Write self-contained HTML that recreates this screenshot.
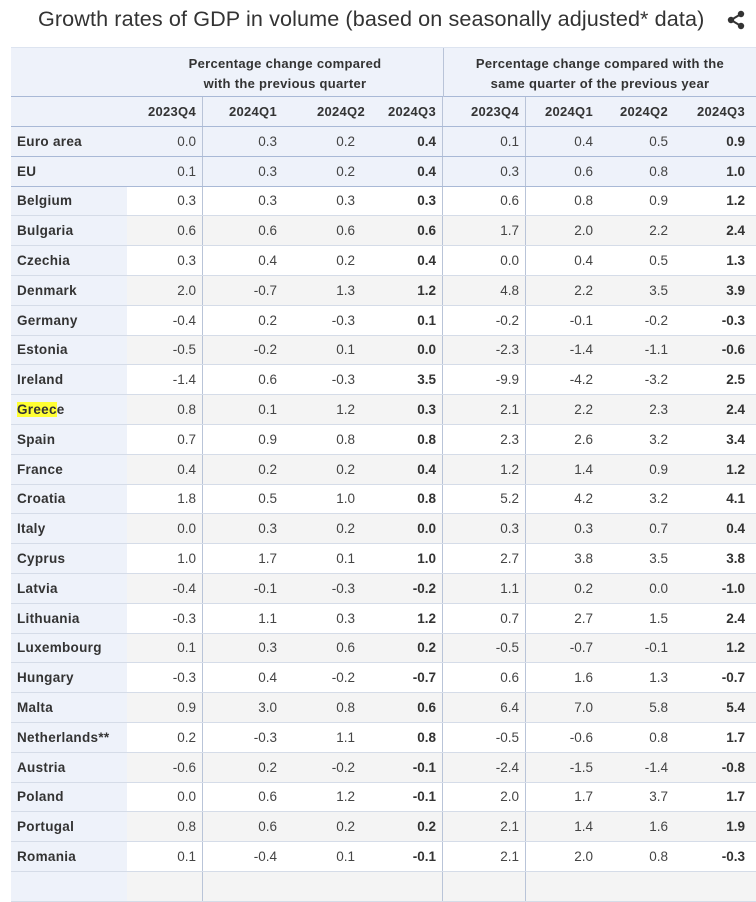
<!DOCTYPE html>
<html><head><meta charset="utf-8"><style>
body{margin:0;width:756px;height:876px;overflow:hidden;background:#fff;font-family:"Liberation Sans",Arial,sans-serif;color:#333;position:relative}
.title{position:absolute;left:38px;top:6px;font-size:21.6px;color:#333;white-space:nowrap;letter-spacing:0.1px}
.share{position:absolute;left:726px;top:10px}
.tbl{position:absolute;left:11px;top:47px;width:760px}
.gh{height:50px;background:#eef2fa;border-top:1px solid #dde4f0;border-bottom:1px solid #a9b9d6;box-sizing:border-box;position:relative;font-weight:bold;font-size:13px;color:#333;letter-spacing:0.3px}
.gh div{position:absolute;top:6px;text-align:center;line-height:20px}
.row{display:grid;grid-template-columns:116px 76px 80px 77px 83px 83px 75px 75px 80px;height:29.8px;box-sizing:border-box;border-bottom:1px solid #d5dce8;font-size:13.5px;align-items:center}
.row>div{height:100%;display:flex;align-items:center;justify-content:flex-end;box-sizing:border-box}
.row>div:first-child{justify-content:flex-start;padding-left:6px;font-weight:bold;background:#eef2fa;letter-spacing:0.3px}
.yr{background:#eef2fa;font-weight:bold;border-bottom:1px solid #a9b9d6;height:30px;letter-spacing:0.3px;font-size:13px}
.agg{background:#eef2fa;border-bottom:1px solid #a9b9d6}
.g{background:#f4f4f4}
.c1{padding-right:6px;border-right:1px solid #b9c4d8}
.c2{padding-right:6px}.c3{padding-right:5px}
.c4{padding-right:6px;border-right:1px solid #b9c4d8}
.c5{padding-right:6px;border-right:1px solid #b9c4d8}
.c6{padding-right:8px}.c7{padding-right:8px}.c8{padding-right:11px}
.yr .c3{padding-right:0;position:relative;left:5px}
.b{font-weight:bold}
.v{color:#444}
mark{background:#ffff33;color:#333}
</style></head><body>
<div class="title">Growth rates of GDP in volume (based on seasonally adjusted* data)</div>
<svg class="share" width="20" height="20" viewBox="0 0 20 20"><circle cx="15" cy="4" r="3.2" fill="#333"/><circle cx="5" cy="10" r="3.2" fill="#333"/><circle cx="15" cy="16" r="3.2" fill="#333"/><path d="M15 4L5 10L15 16" stroke="#333" stroke-width="2" fill="none"/></svg>
<div class="tbl">
<div class="gh"><div style="left:116px;width:316px">Percentage change compared<br>with the previous quarter</div><div style="left:432px;width:313px;border-left:1px solid #b9c4d8;top:0;height:49px;padding-top:6px;box-sizing:border-box">Percentage change compared with the<br>same quarter of the previous year</div></div>
<div class="row yr"><div></div><div class="c1">2023Q4</div><div class="c2">2024Q1</div><div class="c3">2024Q2</div><div class="c4">2024Q3</div><div class="c5">2023Q4</div><div class="c6">2024Q1</div><div class="c7">2024Q2</div><div class="c8">2024Q3</div></div>
<div id="rows"></div>
</div>
<script>
var d=[["Euro area","0.0","0.3","0.2","0.4","0.1","0.4","0.5","0.9"],["EU","0.1","0.3","0.2","0.4","0.3","0.6","0.8","1.0"],["Belgium","0.3","0.3","0.3","0.3","0.6","0.8","0.9","1.2"],["Bulgaria","0.6","0.6","0.6","0.6","1.7","2.0","2.2","2.4"],["Czechia","0.3","0.4","0.2","0.4","0.0","0.4","0.5","1.3"],["Denmark","2.0","-0.7","1.3","1.2","4.8","2.2","3.5","3.9"],["Germany","-0.4","0.2","-0.3","0.1","-0.2","-0.1","-0.2","-0.3"],["Estonia","-0.5","-0.2","0.1","0.0","-2.3","-1.4","-1.1","-0.6"],["Ireland","-1.4","0.6","-0.3","3.5","-9.9","-4.2","-3.2","2.5"],["<mark>Greec</mark>e","0.8","0.1","1.2","0.3","2.1","2.2","2.3","2.4"],["Spain","0.7","0.9","0.8","0.8","2.3","2.6","3.2","3.4"],["France","0.4","0.2","0.2","0.4","1.2","1.4","0.9","1.2"],["Croatia","1.8","0.5","1.0","0.8","5.2","4.2","3.2","4.1"],["Italy","0.0","0.3","0.2","0.0","0.3","0.3","0.7","0.4"],["Cyprus","1.0","1.7","0.1","1.0","2.7","3.8","3.5","3.8"],["Latvia","-0.4","-0.1","-0.3","-0.2","1.1","0.2","0.0","-1.0"],["Lithuania","-0.3","1.1","0.3","1.2","0.7","2.7","1.5","2.4"],["Luxembourg","0.1","0.3","0.6","0.2","-0.5","-0.7","-0.1","1.2"],["Hungary","-0.3","0.4","-0.2","-0.7","0.6","1.6","1.3","-0.7"],["Malta","0.9","3.0","0.8","0.6","6.4","7.0","5.8","5.4"],["Netherlands**","0.2","-0.3","1.1","0.8","-0.5","-0.6","0.8","1.7"],["Austria","-0.6","0.2","-0.2","-0.1","-2.4","-1.5","-1.4","-0.8"],["Poland","0.0","0.6","1.2","-0.1","2.0","1.7","3.7","1.7"],["Portugal","0.8","0.6","0.2","0.2","2.1","1.4","1.6","1.9"],["Romania","0.1","-0.4","0.1","-0.1","2.1","2.0","0.8","-0.3"],["","","","","","","","",""]];
var h="";d.forEach(function(r,i){var cls="row"+(i<2?" agg":"");var bg=(i>=2&&i%2==1)?" g":"";h+='<div class="'+cls+'"><div>'+r[0]+'</div>';for(var j=1;j<9;j++){h+='<div class="c'+j+bg+((j==4||j==8)?" b":" v")+'">'+r[j]+'</div>';}h+='</div>';});
document.getElementById("rows").innerHTML=h;
</script>
</body></html>
